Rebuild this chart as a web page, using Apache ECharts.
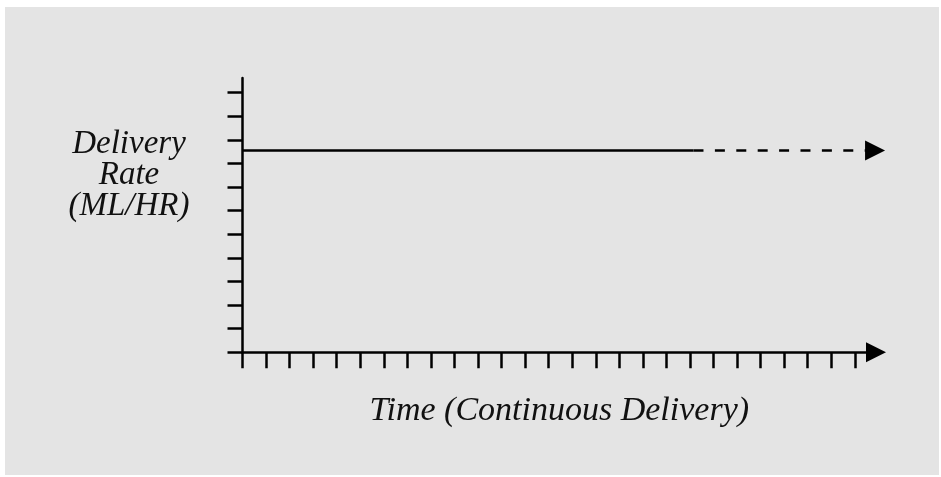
<!DOCTYPE html>
<html>
<head>
    <meta charset="UTF-8">
    <title>Delivery Rate</title>
    <script src="https://cdn.jsdelivr.net/npm/echarts@6/dist/echarts.min.js"></script>
    <style>
        *{ margin:0; padding:0; }
        body{ background:#fff; width:941px; height:477px; position:relative; }
        #main{ position:absolute; left:5px; top:7px; width:934px; height:468px; background:#e4e4e4; }
    </style>
</head>
<body>
<div id="main"></div>
<script>
// tick positions on both axes
var xTicks = [0,1,2,3,4,5,6,7,8,9,10,11,12,13,14,15,16,17,18,19,20,21,22,23,24,25,26];
var yTicks = [0,1,2,3,4,5,6,7,8,9,10,11];
// constant rate, solid part then dashed continuation
var solidLine = [[0, 8.55], [19.15, 8.55]];
var dashedLine = [[19.15, 8.55], [26.86, 8.55]];
var arrowHead = [[26.86, 8.55]];

var yLabel = 'Delivery\nRate\n(ML/HR)';
var xLabel = 'Time (Continuous Delivery)';

var font = 'Liberation Serif';
var myChart = echarts.init(document.getElementById('main'));

var option = {
    animation: false,
    grid: { left: 237.5, right: 63, top: 71, bottom: 122.7 },
    xAxis: {
        type: 'value',
        min: 0,
        max: 26.9,
        name: xLabel,
        nameLocation: 'middle',
        nameGap: 42,
        nameTextStyle: { fontFamily: font, fontStyle: 'italic', fontSize: 34, color: '#111' },
        axisLine: {
            show: true,
            symbol: ['none', 'triangle'],
            symbolSize: [20, 20],
            lineStyle: { color: '#000', width: 2.5 }
        },
        axisTick: { show: true, length: 16, customValues: xTicks, lineStyle: { color: '#000', width: 2.5 } },
        axisLabel: { show: false },
        splitLine: { show: false }
    },
    yAxis: {
        type: 'value',
        min: 0,
        max: 11.62,
        axisLine: { show: true, lineStyle: { color: '#000', width: 2.5 } },
        axisTick: { show: true, length: 15, customValues: yTicks, lineStyle: { color: '#000', width: 2.5 } },
        axisLabel: { show: false },
        splitLine: { show: false }
    },
    graphic: [{
        type: 'text',
        x: 124,
        y: 168,
        style: {
            text: yLabel,
            align: 'center',
            verticalAlign: 'middle',
            fontFamily: font,
            fontStyle: 'italic',
            fontSize: 33,
            lineHeight: 31,
            fill: '#111'
        }
    }],
    series: [{
        type: 'line',
        data: solidLine,
        symbol: 'none',
        lineStyle: { color: '#000', width: 2.5 }
    }, {
        type: 'line',
        data: dashedLine,
        symbol: 'none',
        lineStyle: { color: '#000', width: 2.5, type: [10, 11.4] }
    }, {
        type: 'scatter',
        data: arrowHead,
        symbol: 'triangle',
        symbolSize: [20, 20],
        symbolRotate: -90,
        itemStyle: { color: '#000', opacity: 1 }
    }]
};
myChart.setOption(option);
</script>
</body>
</html>
